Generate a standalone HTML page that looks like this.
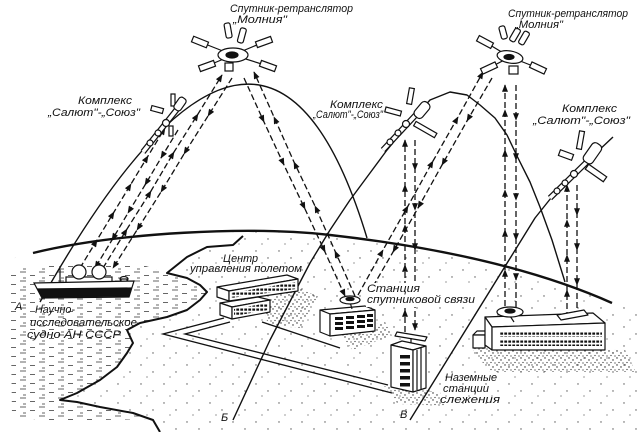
<!DOCTYPE html>
<html><head><meta charset="utf-8">
<style>
html,body{margin:0;padding:0;background:#fff;}
svg{display:block;}
text{font-family:"Liberation Sans","DejaVu Sans",sans-serif;font-style:italic;font-size:11px;fill:#111;}
</style></head><body>
<svg width="639" height="432" viewBox="0 0 639 432" xmlns="http://www.w3.org/2000/svg">
<defs>
<pattern id="water" width="19" height="9" patternUnits="userSpaceOnUse">
 <path d="M1 2h6M11 5.5h5M4 8h3" stroke="#333" stroke-width="0.8"/>
</pattern>
<pattern id="dots" width="23" height="19" patternUnits="userSpaceOnUse">
 <circle cx="3" cy="4" r="0.7" fill="#555"/><circle cx="15" cy="11" r="0.7" fill="#555"/><circle cx="9" cy="16" r="0.6" fill="#555"/>
</pattern>
<pattern id="dense" width="8" height="7" patternUnits="userSpaceOnUse">
 <circle cx="1" cy="1" r="0.7" fill="#222"/><circle cx="5" cy="3" r="0.7" fill="#222"/><circle cx="3" cy="5.5" r="0.6" fill="#222"/><circle cx="7" cy="6" r="0.6" fill="#222"/>
</pattern>
<pattern id="win" width="4" height="4" patternUnits="userSpaceOnUse">
 <rect x="0.3" y="0.5" width="2.8" height="2.2" fill="#111"/>
</pattern>
<marker id="a" viewBox="0 0 10 8" refX="9" refY="4" markerWidth="8" markerHeight="6" orient="auto" markerUnits="userSpaceOnUse"><path d="M0,0 L10,4 L0,8 z" fill="#111"/></marker>
</defs>

<!-- land dots -->
<path d="M33,253 C120,232 250,226 330,235 S520,262 612,303 L639,312 L639,432 L0,432 L0,262 Z" fill="url(#dots)"/>
<!-- water (white base) -->
<path d="M0,262 L33,253 L80,243 L130,237 L180,233 L240,232 L243,236 L233,245 L207,247 L187,257 L167,273 L187,278 L200,285 L207,292 L200,300 L187,310 L167,317 L140,323 L127,330 L133,343 L127,353 L117,367 L100,380 L77,393 L60,400 L77,402 L100,407 L133,413 L153,420 L160,432 L0,432 Z" fill="#fff"/>
<!-- water texture -->
<path d="M10,270 L60,264 L140,264 L167,273 L187,278 L200,285 L207,292 L200,300 L187,310 L167,317 L140,323 L127,330 L133,343 L127,353 L117,367 L100,380 L77,393 L60,400 L77,402 L100,407 L133,413 L150,419 L100,420 L40,420 L12,416 Z" fill="url(#water)"/>

<!-- dense stipple -->
<g fill="url(#dense)">
 <polygon points="262,300 298,288 318,296 300,328 268,325"/>
 <polygon points="340,332 385,322 392,336 352,350"/>
 <polygon points="384,386 440,392 446,406 398,404"/>
 <polygon points="470,346 625,350 636,372 490,372"/>
</g>

<!-- horizon -->
<path d="M33,253 C120,232 250,226 330,235 S520,262 612,303" fill="none" stroke="#111" stroke-width="2.4"/>
<!-- coast -->
<polyline points="243,236 233,245 207,247 187,257 167,273 187,278 200,285 207,292 200,300 187,310 167,317 140,323 127,330 133,343 127,353 117,367 100,380 77,393 60,400 77,402 100,407 133,413 153,420 160,432" fill="none" stroke="#111" stroke-width="2" stroke-linejoin="round"/>

<!-- orbits -->
<g fill="none" stroke="#111" stroke-width="1.4" stroke-linejoin="round">
 <path d="M40,302 Q265,-99 367,238"/>
 <polyline points="233,420 270,340 310,263 330,230 350,200 370,173 387,150 405,128 430,100 450,92 467,95 480,105 495,118 507,135 518,158 530,182 540,207 552,240 565,282"/>
 <polyline points="410,420 535,218 555,193 580,168 613,137"/>
</g>

<!-- ground plot -->
<g fill="none" stroke="#111" stroke-width="1.3">
 <polyline points="224,318 163,334 392,393"/>
 <polyline points="230,322 185,334 388,385"/>
 <line x1="262" y1="322" x2="340" y2="348"/>
</g>

<!-- dashed links -->
<g fill="none" stroke="#111" stroke-width="1.3" stroke-dasharray="6 3" marker-mid="url(#a)" marker-end="url(#a)">
 <path d="M80,268 L97,240 L114,212 L131,184 L148,156 L165,128"/>
 <path d="M178,130 L161,158 L145,185 L128,213 L112,240 L95,268"/>
 <path d="M103,268 L127,229 L151,191 L174,152 L198,114 L222,75"/>
 <path d="M232,78 L208,116 L184,154 L161,192 L137,230 L113,268"/>
 <path d="M244,78 L264,122 L284,165 L305,209 L325,252 L345,296"/>
 <path d="M355,296 L335,251 L315,206 L294,162 L274,117 L254,72"/>
 <path d="M358,295 L383,250 L408,206 L433,161 L458,117 L483,72"/>
 <path d="M492,78 L467,121 L442,165 L418,208 L393,252 L368,295"/>
 <path d="M405,332 L405,310 L405,265 L405,225 L405,185 L405,140"/>
 <path d="M415,140 L415,170 L415,210 L415,250 L415,290 L415,330"/>
 <path d="M505,306 L505,270 L505,230 L505,190 L505,150 L505,110 L505,85"/>
 <path d="M516,85 L516,120 L516,160 L516,200 L516,240 L516,280 L516,315"/>
 <path d="M567,318 L567,290 L567,255 L567,220 L567,185"/>
 <path d="M577,185 L577,215 L577,250 L577,285 L577,318"/>
</g>

<!-- ship -->
<g stroke="#111" stroke-width="1.2">
 <line x1="60" y1="266" x2="60" y2="283"/>
 <rect x="66" y="277" width="46" height="7" fill="#fff"/>
 <circle cx="79" cy="272" r="7" fill="#fff"/>
 <circle cx="99" cy="272" r="7" fill="#fff"/>
 <ellipse cx="124" cy="279" rx="4" ry="2.5" fill="#fff"/>
 <rect x="121" y="279" width="6" height="5" fill="#fff"/>
 <polygon points="34,283 134,281 129,297 42,298" fill="#fff"/>
 <polygon points="38,289 131,288 129,296 42,297" fill="#111"/>
</g>

<!-- flight control center -->
<g stroke="#111" stroke-width="1.2" stroke-linejoin="round">
 <polygon points="217,287 229,291 298,279 287,275" fill="#fff"/>
 <polygon points="217,287 229,291 229,301 217,297" fill="#fff"/>
 <polygon points="229,291 298,279 298,291 229,301" fill="#fff"/>
 <polygon points="231,293 296,282 296,289 231,298" fill="url(#win)" stroke="none"/>
 <polygon points="220,303 232,307 270,300 258,297" fill="#fff"/>
 <polygon points="220,303 232,307 232,319 220,315" fill="#fff"/>
 <polygon points="232,307 270,300 270,312 232,319" fill="#fff"/>
 <polygon points="234,309 268,303 268,310 234,316" fill="url(#win)" stroke="none"/>
</g>

<!-- satellite comm station -->
<g stroke="#111" stroke-width="1.2" stroke-linejoin="round">
 <polygon points="320,310 330,314 375,310 365,306" fill="#fff"/>
 <polygon points="320,310 330,314 330,336 320,332" fill="#fff"/>
 <polygon points="330,314 375,310 375,331 330,336" fill="#fff"/>
 <g fill="#111" stroke="none">
  <rect x="335" y="317" width="8" height="3"/><rect x="346" y="316" width="8" height="3"/><rect x="357" y="315" width="8" height="3"/><rect x="367" y="314" width="6" height="3"/>
  <rect x="335" y="322" width="8" height="3"/><rect x="346" y="321" width="8" height="3"/><rect x="357" y="320" width="8" height="3"/><rect x="367" y="319" width="6" height="3"/>
  <rect x="335" y="327" width="8" height="3"/><rect x="346" y="326" width="8" height="3"/><rect x="357" y="325" width="8" height="3"/><rect x="367" y="324" width="6" height="3"/>
 </g>
 <line x1="350" y1="302" x2="352" y2="309"/>
 <ellipse cx="350" cy="300" rx="10" ry="4" fill="#fff"/>
 <ellipse cx="350" cy="299" rx="4" ry="1.5" fill="#111"/>
</g>

<!-- tracking tower -->
<g stroke="#111" stroke-width="1.2" stroke-linejoin="round">
 <polygon points="391,345 402,341 426,346 413,350" fill="#fff"/>
 <polygon points="391,345 413,350 413,392 391,387" fill="#fff"/>
 <polygon points="413,350 426,346 426,388 413,392" fill="#fff"/>
 <g fill="#111" stroke="none">
  <rect x="400" y="355" width="10" height="3.5"/><rect x="400" y="362" width="10" height="3.5"/><rect x="400" y="369" width="10" height="3.5"/><rect x="400" y="376" width="10" height="3.5"/><rect x="400" y="383" width="10" height="3.5"/>
 </g>
 <line x1="417" y1="350" x2="417" y2="390"/><line x1="421" y1="348" x2="421" y2="389"/>
 <polygon points="397,332 427,337 425,341 395,336" fill="#fff"/>
 <line x1="411" y1="338" x2="411" y2="343"/>
</g>

<!-- right station -->
<g stroke="#111" stroke-width="1.2" stroke-linejoin="round">
 <polygon points="473,335 477,331 489,331 485,335" fill="#fff"/>
 <polygon points="473,335 485,335 485,348 473,348" fill="#fff"/>
 <polygon points="485,317 593,313 605,323 492,327" fill="#fff"/>
 <polygon points="485,317 492,327 492,350 485,345" fill="#fff"/>
 <polygon points="492,327 605,323 605,350 492,350" fill="#fff"/>
 <rect x="500" y="331" width="102" height="6" fill="url(#win)" stroke="none"/>
 <rect x="500" y="340" width="102" height="6" fill="url(#win)" stroke="none"/>
 <line x1="510" y1="316" x2="514" y2="322"/>
 <ellipse cx="510" cy="312" rx="13" ry="5" fill="#fff"/>
 <ellipse cx="510" cy="311" rx="5" ry="2" fill="#111"/>
 <polygon points="557,315 584,310 588,315 561,320" fill="#fff"/>
</g>

<!-- Molniya 1 -->
<g stroke="#111" stroke-width="1.2" fill="#fff">
 <line x1="233" y1="55" x2="200" y2="42"/><line x1="233" y1="55" x2="207" y2="66"/>
 <line x1="233" y1="55" x2="264" y2="42"/><line x1="233" y1="55" x2="268" y2="66"/>
 <rect x="192" y="39" width="16" height="6" transform="rotate(22 200 42)"/>
 <rect x="199" y="63" width="16" height="6" transform="rotate(-20 207 66)"/>
 <rect x="256" y="39" width="16" height="6" transform="rotate(-20 264 42)"/>
 <rect x="260" y="63" width="16" height="6" transform="rotate(20 268 66)"/>
 <rect x="225" y="23" width="6" height="15" rx="2" transform="rotate(-10 228 30)"/>
 <rect x="239" y="28" width="6" height="15" rx="2" transform="rotate(15 242 35)"/>
 <rect x="225" y="63" width="8" height="8"/>
 <ellipse cx="233" cy="55" rx="15" ry="7"/>
 <ellipse cx="232" cy="55" rx="6" ry="3" fill="#111"/>
</g>

<!-- Molniya 2 -->
<g stroke="#111" stroke-width="1.2" fill="#fff">
 <line x1="510" y1="57" x2="485" y2="42"/><line x1="510" y1="57" x2="489" y2="68"/>
 <line x1="510" y1="57" x2="538" y2="68"/>
 <rect x="477" y="39" width="16" height="6" transform="rotate(28 485 42)"/>
 <rect x="481" y="65" width="16" height="6" transform="rotate(-25 489 68)"/>
 <rect x="530" y="65" width="16" height="6" transform="rotate(25 538 68)"/>
 <rect x="500" y="26" width="6" height="13" rx="2" transform="rotate(-15 503 32)"/>
 <rect x="512" y="28" width="6" height="14" rx="2" transform="rotate(30 515 35)"/>
 <rect x="521" y="31" width="6" height="14" rx="2" transform="rotate(30 524 38)"/>
 <rect x="509" y="66" width="9" height="8"/>
 <ellipse cx="510" cy="57" rx="13" ry="6" transform="rotate(10 510 57)"/>
 <ellipse cx="509" cy="57" rx="5" ry="2.5" fill="#111"/>
</g>

<!-- Salyut 1 -->
<g stroke="#111" fill="#fff" stroke-width="1.2">
 <line x1="143" y1="152" x2="182" y2="103" stroke-width="6"/>
 <line x1="143" y1="152" x2="182" y2="103" stroke="#fff" stroke-width="3.5"/>
 <circle cx="150" cy="143" r="3"/><circle cx="158" cy="133" r="3"/><circle cx="166" cy="123" r="3.5"/>
 <rect x="151" y="107" width="12" height="5" transform="rotate(15 157 110)"/>
 <rect x="171" y="94" width="4" height="12"/>
 <rect x="169" y="126" width="4" height="10"/>
 <rect x="176" y="97" width="8" height="14" rx="3" transform="rotate(35 180 104)"/>
</g>

<!-- Salyut 2 -->
<g stroke="#111" fill="#fff" stroke-width="1.2">
 <line x1="383" y1="150" x2="425" y2="105" stroke-width="6"/>
 <line x1="383" y1="150" x2="425" y2="105" stroke="#fff" stroke-width="3.5"/>
 <circle cx="390" cy="142" r="3"/><circle cx="398" cy="133" r="3"/><circle cx="406" cy="124" r="3.5"/>
 <rect x="408" y="88" width="5" height="16" transform="rotate(10 410 96)"/>
 <rect x="385" y="109" width="16" height="5" transform="rotate(15 393 112)"/>
 <rect x="413" y="127" width="24" height="5" transform="rotate(30 425 130)"/>
 <rect x="417" y="101" width="10" height="18" rx="4" transform="rotate(40 422 110)"/>
</g>

<!-- Salyut 3 -->
<g stroke="#111" fill="#fff" stroke-width="1.2">
 <line x1="550" y1="198" x2="596" y2="153" stroke-width="6"/>
 <line x1="550" y1="198" x2="596" y2="153" stroke="#fff" stroke-width="3.5"/>
 <circle cx="557" cy="191" r="3"/><circle cx="565" cy="183" r="3"/><circle cx="574" cy="174" r="3.5"/>
 <rect x="578" y="131" width="5" height="18" transform="rotate(10 580 140)"/>
 <rect x="559" y="152" width="14" height="6" transform="rotate(20 566 155)"/>
 <rect x="585" y="170" width="22" height="6" transform="rotate(35 596 173)"/>
 <rect x="587" y="142" width="11" height="22" rx="4" transform="rotate(35 592 153)"/>
</g>

<!-- label backgrounds -->
<rect x="366" y="283" width="111" height="24" fill="#fff"/>

<!-- labels -->
<text x="230" y="12" textLength="123" lengthAdjust="spacingAndGlyphs">Спутник-ретранслятор</text>
<text x="233" y="23" textLength="54" lengthAdjust="spacingAndGlyphs">„Молния"</text>
<text x="508" y="17" textLength="120" lengthAdjust="spacingAndGlyphs">Спутник-ретранслятор</text>
<text x="515" y="28" textLength="48" lengthAdjust="spacingAndGlyphs">„Молния"</text>
<text x="78" y="104" textLength="54" lengthAdjust="spacingAndGlyphs">Комплекс</text>
<text x="48" y="116" textLength="92" lengthAdjust="spacingAndGlyphs">„Салют"-„Союз"</text>
<text x="330" y="108" textLength="53" lengthAdjust="spacingAndGlyphs">Комплекс</text>
<text x="313" y="118" textLength="70" lengthAdjust="spacingAndGlyphs">„Салют"-„Союз"</text>
<text x="562" y="112" textLength="55" lengthAdjust="spacingAndGlyphs">Комплекс</text>
<text x="533" y="124" textLength="97" lengthAdjust="spacingAndGlyphs">„Салют"-„Союз"</text>
<text x="223" y="262" textLength="35" lengthAdjust="spacingAndGlyphs">Центр</text>
<text x="190" y="272" textLength="112" lengthAdjust="spacingAndGlyphs">управления полетом</text>
<text x="367" y="292" textLength="53" lengthAdjust="spacingAndGlyphs">Станция</text>
<text x="367" y="303" textLength="108" lengthAdjust="spacingAndGlyphs">спутниковой связи</text>
<text x="445" y="381" textLength="52" lengthAdjust="spacingAndGlyphs">Наземные</text>
<text x="443" y="392" textLength="46" lengthAdjust="spacingAndGlyphs">станции</text>
<text x="440" y="403" textLength="60" lengthAdjust="spacingAndGlyphs">слежения</text>
<text x="35" y="313" textLength="40" lengthAdjust="spacingAndGlyphs">Научно-</text>
<text x="30" y="326" textLength="107" lengthAdjust="spacingAndGlyphs">исследовательское</text>
<text x="27" y="338" textLength="94" lengthAdjust="spacingAndGlyphs">судно АН СССР</text>
<text x="15" y="310" font-size="12">А</text>
<text x="221" y="421" font-size="12">Б</text>
<text x="400" y="418" font-size="12">В</text>
</svg>
</body></html>
